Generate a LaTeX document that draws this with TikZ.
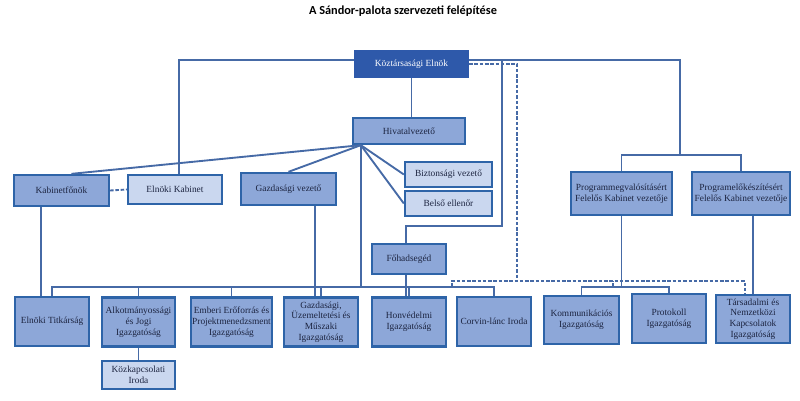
\documentclass[tikz,border=0pt]{standalone}
\usepackage{fontspec}
\setmainfont{Liberation Serif}
\newfontfamily\titlefont{Carlito}
\usetikzlibrary{positioning}
\definecolor{boxblue}{RGB}{141,167,216}
\definecolor{lightblue}{RGB}{202,215,239}
\definecolor{darkblue}{RGB}{46,89,170}
\definecolor{edgeblue}{RGB}{46,100,168}
\definecolor{lineblue}{RGB}{70,106,166}
\definecolor{navytext}{RGB}{28,36,64}

\begin{document}
\begin{tikzpicture}[x=0.03cm, y=-0.03cm,
    box/.style={draw=edgeblue, line width=2pt, fill=boxblue, text=navytext, align=center, inner sep=1pt, font=\fontsize{8}{9.2}\selectfont},
    lightbox/.style={box, fill=lightblue},
    topbox/.style={box, fill=darkblue, draw=darkblue, text=white},
    dirbox/.style={box, minimum width=2.22cm, minimum height=1.48cm},
    link/.style={draw=lineblue, line width=1.6pt},
    dlink/.style={link, dash pattern=on 3pt off 1.5pt}]
    \useasboundingbox (0,0) rectangle (800,401);

    % Title
    \node[font=\titlefont\bfseries\fontsize{10.5}{12}\selectfont] (title) at (403,11) {A Sándor-palota szervezeti felépítése};

    % Leaders
    \node[topbox, minimum width=3.39cm, minimum height=0.78cm] (elnok) at (411.5,64) {Köztársasági Elnök};
    \node[box, minimum width=3.36cm, minimum height=0.78cm] (hivatal) at (409,131) {Hivatalvezető};
    \node[lightbox, minimum width=2.61cm, minimum height=0.75cm] (bizt) at (448.5,174.5) {Biztonsági vezető};
    \node[lightbox, minimum width=2.61cm, minimum height=0.75cm] (belso) at (448.5,203.5) {Belső ellenőr};
    \node[box, minimum width=2.22cm, minimum height=0.9cm] (fohad) at (409,259) {Főhadsegéd};
    \node[box, minimum width=2.85cm, minimum height=0.93cm] (kabfon) at (61.5,190.5) {Kabinetfőnök};
    \node[lightbox, minimum width=2.82cm, minimum height=0.87cm] (kabinet) at (175,189.5) {Elnöki Kabinet};
    \node[box, minimum width=2.85cm, minimum height=0.96cm] (gazdvez) at (288.5,189) {Gazdasági vezető};
    \node[box, minimum width=3.03cm, minimum height=1.29cm] (progmeg) at (621.5,193.5) {Programmegvalósításért\\Felelős Kabinet vezetője};
    \node[box, minimum width=2.94cm, minimum height=1.29cm] (progelo) at (741,193.5) {Programelőkészítésért\\Felelős Kabinet vezetője};

    % Directorates
    \node[dirbox] (titk) at (52,321.5) {Elnöki Titkárság};
    \node[dirbox, minimum width=2.19cm] (alkot) at (138.5,322) {Alkotmányossági\\és Jogi\\Igazgatóság};
    \node[lightbox, minimum width=2.19cm, minimum height=0.84cm] (kozkap) at (138.5,375) {Közkapcsolati\\Iroda};
    \node[dirbox, minimum width=2.43cm] (ember) at (231.5,322) {Emberi Erőforrás és\\Projektmenedzsment\\Igazgatóság};
    \node[dirbox] (gazdig) at (321,322) {Gazdasági,\\Üzemeltetési és\\Műszaki\\Igazgatóság};
    \node[dirbox] (honv) at (409,322) {Honvédelmi\\Igazgatóság};
    \node[dirbox] (corvin) at (494,321.5) {Corvin-lánc Iroda};
    \node[dirbox, minimum width=2.25cm, minimum height=1.44cm] (komm) at (581.5,320) {Kommunikációs\\Igazgatóság};
    \node[dirbox] (prot) at (669,318.5) {Protokoll\\Igazgatóság};
    \node[dirbox, minimum height=1.44cm] (tars) at (753,319) {Társadalmi és\\Nemzetközi\\Kapcsolatok\\Igazgatóság};

    % Helper points
    \coordinate (pk) at (680,155);
    \coordinate (fh) at (502,226);
    \coordinate (dk) at (517,281);
    \coordinate (dL) at (452,287);
    \coordinate (dM) at (613,287);
    \coordinate (bus) at (363,287);
    \coordinate (pb) at (621.5,287);
    \coordinate (hv) at ([xshift=0.27cm]hivatal.south west);
    \coordinate (eR) at ([yshift=0.12cm]elnok.east);

    % Lines from the President
    \draw[link] ([yshift=0.12cm]elnok.west) -| ([xshift=0.12cm]kabinet.north);
    \draw[link] (eR) -| (pk);
    \draw[link] (progmeg.north) |- (pk) -| (progelo.north);
    \draw[link] (fh |- eR) -- (fh) -| ([xshift=-0.09cm]fohad.north);
    \draw[link] (elnok.south) -- (elnok.south |- hivatal.north);
    \draw[dlink] (elnok.east) -| (dk);
    \draw[dlink] (dL) |- (dk) -| ([xshift=-0.24cm]tars.north);
    \draw[dlink] (dM) -- (dM |- dk);

    % Lines from the Head of Office
    \draw[link] (hv) -- ([xshift=0.3cm]kabfon.north);
    \draw[link] (hv) -- (gazdvez.north);
    \draw[link] (hv) -- (bizt.west);
    \draw[link] (hv) -- (belso.west);
    \draw[link] (hv) -- (hv |- bus);
    \draw[link] (titk.north) |- (bus) -| (corvin.north);
    \foreach \n in {alkot, ember, gazdig, honv}
        \draw[link] (\n.north) -- (\n.north |- bus);

    % Other lines
    \draw[dlink] (kabfon.east) -- (kabinet.west);
    \draw[link] ([xshift=-0.62cm]kabfon.south) coordinate (k1) -- (k1 |- titk.north);
    \draw[link] ([xshift=0.8cm]gazdvez.south) coordinate (g1) -- (g1 |- gazdig.north);
    \draw[link] ([xshift=-0.09cm]fohad.south) coordinate (f1) -- (f1 |- honv.north);
    \draw[link] (alkot.south) -- (kozkap.north);
    \draw[link] (progmeg.south) -- (pb);
    \draw[link] (komm.north) |- (pb) -| (prot.north);
    \draw[link] (tars.north |- progelo.south) -- (tars.north);
\end{tikzpicture}
\end{document}
